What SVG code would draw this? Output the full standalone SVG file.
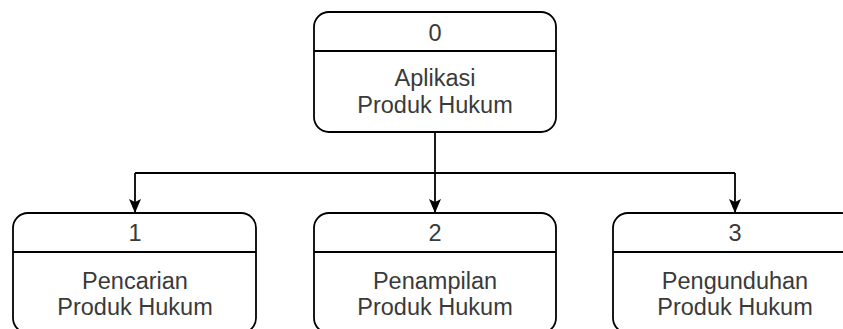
<svg xmlns="http://www.w3.org/2000/svg" width="843" height="329" viewBox="0 0 843 329">
<style>
.box{fill:#fff;stroke:#000;stroke-width:1.8}
.div{stroke:#000;stroke-width:1.8}
.t{font-family:"Liberation Sans",Arial,sans-serif;font-size:23.5px;fill:#3a3a3a;text-anchor:middle}
.c{fill:none;stroke:#000;stroke-width:1.8}
</style>
<defs>
<marker id="arrow" markerWidth="14" markerHeight="12" refX="14" refY="6" orient="auto" markerUnits="userSpaceOnUse" viewBox="0 0 14 12">
<path d="M0,0 L14,6 L0,12 L3,6 Z" fill="#000"/>
</marker>
</defs>
<rect width="843" height="329" fill="#fff"/>
<g id="connectors">
<path class="c" d="M435,132 V173"/>
<path class="c" d="M135,173 H735"/>
<path class="c" d="M135,173 V213" marker-end="url(#arrow)"/>
<path class="c" d="M435,173 V213" marker-end="url(#arrow)"/>
<path class="c" d="M735,173 V213" marker-end="url(#arrow)"/>
</g>
<g id="node0">
<rect class="box" x="314" y="12" width="242" height="120" rx="15"/>
<line class="div" x1="314" y1="51" x2="556" y2="51"/>
<text class="t" x="435" y="41">0</text>
<text class="t" x="435" y="86">Aplikasi</text>
<text class="t" x="435" y="113">Produk Hukum</text>
</g>
<g id="node1">
<rect class="box" x="13" y="213" width="243" height="120" rx="15"/>
<line class="div" x1="13" y1="252" x2="256" y2="252"/>
<text class="t" x="135" y="241">1</text>
<text class="t" x="135" y="289">Pencarian</text>
<text class="t" x="135" y="315">Produk Hukum</text>
</g>
<g id="node2">
<rect class="box" x="314" y="213" width="242" height="120" rx="15"/>
<line class="div" x1="314" y1="252" x2="556" y2="252"/>
<text class="t" x="435" y="241">2</text>
<text class="t" x="435" y="289">Penampilan</text>
<text class="t" x="435" y="315">Produk Hukum</text>
</g>
<g id="node3">
<rect class="box" x="613" y="213" width="243" height="120" rx="15"/>
<line class="div" x1="613" y1="252" x2="856" y2="252"/>
<text class="t" x="735" y="241">3</text>
<text class="t" x="735" y="289">Pengunduhan</text>
<text class="t" x="735" y="315">Produk Hukum</text>
</g>
</svg>
